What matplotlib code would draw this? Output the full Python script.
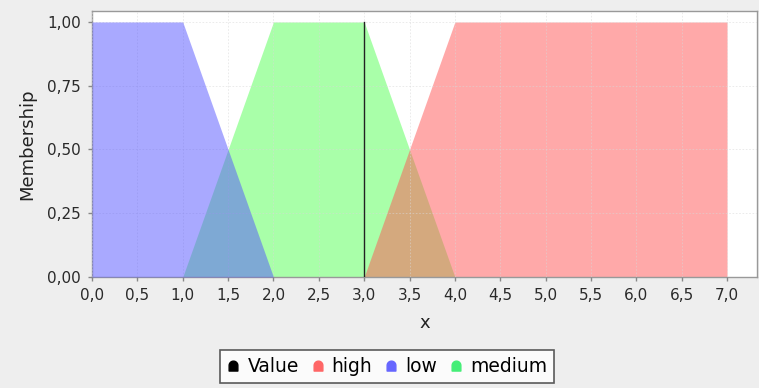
import matplotlib
matplotlib.use("Agg")
import matplotlib.pyplot as plt
from matplotlib.ticker import FuncFormatter, MultipleLocator
from matplotlib.path import Path
from matplotlib.lines import Line2D
import numpy as np

# ---- data ----
low_x = [0.0, 1.0, 2.0]
low_y = [1.0, 1.0, 0.0]
medium_x = [1.0, 2.0, 3.0, 4.0]
medium_y = [0.0, 1.0, 1.0, 0.0]
high_x = [3.0, 4.0, 7.0]
high_y = [0.0, 1.0, 1.0]
value_x = 3.0
value_top = 1.0

series_names = ["Value", "high", "low", "medium"]
series_colors = {"Value": "#000000", "high": "#ff5555", "low": "#5555ff", "medium": "#55ff55"}
legend_colors = {"Value": "#000000", "high": "#ff6666", "low": "#6666ff", "medium": "#44ee77"}

plt.rcParams['font.family'] = ['DejaVu Sans']

fig = plt.figure(figsize=(7.59, 3.88), dpi=100, facecolor="#eeeeee")
ax = fig.add_axes([92/759, 1-277/388, (757-92)/759, (277-11)/388])
ax.set_facecolor("white")

ax.fill_between(medium_x, medium_y, 0, color=series_colors["medium"], alpha=0.5, lw=0, zorder=1)
ax.fill_between(high_x, high_y, 0, color=series_colors["high"], alpha=0.5, lw=0, zorder=2)
ax.fill_between(low_x, low_y, 0, color=series_colors["low"], alpha=0.5, lw=0, zorder=3)
ax.plot([value_x, value_x], [0, value_top], color="#222222", lw=1.0, zorder=5)

ax.set_xlim(0, 7.33)
ax.set_ylim(0, 1.043)
ax.xaxis.set_major_locator(MultipleLocator(0.5))
ax.yaxis.set_major_locator(MultipleLocator(0.25))
ax.xaxis.set_major_formatter(FuncFormatter(lambda v, p: f"{v:.1f}".replace(".", ",")))
ax.yaxis.set_major_formatter(FuncFormatter(lambda v, p: f"{v:.2f}".replace(".", ",")))

ax.grid(True, color="#d8d8d8", linestyle=(0, (2, 2)), lw=0.6, alpha=0.6, zorder=4)
ax.set_axisbelow(False)
for s in ax.spines.values():
    s.set_color("#999999")
    s.set_linewidth(1.0)
ax.tick_params(axis="both", colors="#888888", labelcolor="#2a2a2a", labelsize=11, length=3, width=1)
ax.tick_params(axis="x", pad=5)
ax.tick_params(axis="y", pad=5)

ax.set_xlabel("x", fontsize=13, color="#222222", labelpad=8)
ax.set_ylabel("Membership", fontsize=13, color="#222222", labelpad=8)

# dome-shaped legend markers
theta = np.linspace(0, np.pi, 20)
verts = [(-0.55, -0.7), (0.55, -0.7), (0.55, 0.0)]
verts += [(0.55*np.cos(t), 0.55*np.sin(t)) for t in theta]
verts += [(-0.55, -0.7)]
dome = Path(verts, closed=True)
handles = [Line2D([], [], marker=dome, linestyle="none", markersize=8,
                  markerfacecolor=legend_colors[n], markeredgecolor=legend_colors[n])
           for n in series_names]
leg = fig.legend(handles, series_names, loc="center", bbox_to_anchor=(387/759, 1-366.5/388),
                 ncol=4, fontsize=13.5, frameon=True, fancybox=False, handlelength=0.7,
                 handletextpad=0.4, columnspacing=0.65, borderpad=0.35, borderaxespad=0)
leg.get_frame().set_edgecolor("#333333")
leg.get_frame().set_linewidth(1.2)

fig.savefig("out.png", dpi=100, facecolor=fig.get_facecolor())
